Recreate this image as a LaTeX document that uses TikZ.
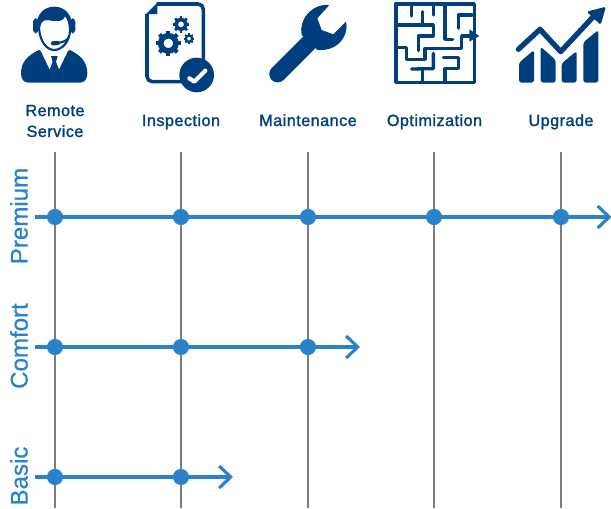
\documentclass[tikz,border=0pt]{standalone}
\usepackage{fontspec}
\setmainfont{Liberation Sans}
\newfontfamily\svcfont[FakeBold=1.6,LetterSpace=3]{Liberation Sans}
\newfontfamily\tierfont[FakeBold=0.8]{Liberation Sans}
\usepackage{tikz}
\usetikzlibrary{arrows,arrows.meta}
\usetikzlibrary{positioning}
\definecolor{icondark}{HTML}{003F7D}
\definecolor{tierblue}{HTML}{2A83C9}
\definecolor{gridgrey}{HTML}{7D7D7D}
\tikzset{
	svclabel/.style={text=icondark,font=\svcfont\fontsize{9.2}{11.9}\selectfont,align=center,inner sep=0pt},
	tierlabel/.style={text=tierblue,font=\tierfont\fontsize{13.7}{16}\selectfont,rotate=90,inner sep=0pt},
	griddrop/.style={gridgrey,line width=0.85pt},
	tierline/.style={tierblue,line width=1.8pt,-{Straight Barb[length=6.6pt,width=12.6pt]}},
	tierdot/.style={circle,fill=tierblue,minimum size=9.2pt,inner sep=0pt},
	wall/.style={icondark,line width=1.9pt,line cap=round,line join=round},
}
\newcommand{\gearicon}[3]{
	\foreach \a in {0,45,...,315}
		\draw [icondark,line width=#3*0.06pt] (#1,#2) ++(\a:#3*0.7) -- ++(\a:#3*0.3);
	\draw [icondark,line width=#3*0.085pt] (#1,#2) circle [radius=#3*0.6];
}
\begin{document}
\begin{tikzpicture}[x=0.02cm,y=-0.02cm]
	\useasboundingbox (0,0) rectangle (611,508);

	% columns
	\foreach \x/\n in {55/a,181/b,308/c,434/d,561/e} {
		\coordinate (top\n) at (\x,152);
		\coordinate (bot\n) at (\x,508);
		\draw [griddrop] (top\n) -- (bot\n);
	}

	% tiers
	\coordinate (pstart) at (35,217);
	\coordinate (pend) at (611.5,217);
	\coordinate (cstart) at (35,347);
	\coordinate (cend) at (360,347);
	\coordinate (bstart) at (35,477);
	\coordinate (bend) at (233,477);
	\draw [tierline] (pstart) -- (pend);
	\draw [tierline] (cstart) -- (cend);
	\draw [tierline] (bstart) -- (bend);
	\foreach \x/\n in {55/a,181/b,308/c,434/d,561/e}
		\node [tierdot] (dotp\n) at (\x,217) {};
	\foreach \x/\n in {55/a,181/b,308/c}
		\node [tierdot] (dotc\n) at (\x,347) {};
	\foreach \x/\n in {55/a,181/b}
		\node [tierdot] (dotb\n) at (\x,477) {};

	\node [tierlabel] (premium) at (19,216) {Premium};
	\node [tierlabel] (comfort) at (19,346) {Comfort};
	\node [tierlabel] (basic) at (19,476) {Basic};

	\node [svclabel] (remote) at (55,121) {Remote\\Service};
	\node [svclabel,anchor=base] (inspection) at (181,126) {Inspection};
	\node [svclabel,anchor=base] (maintenance) at (308,126) {Maintenance};
	\node [svclabel,anchor=base] (optimization) at (434.5,126) {Optimization};
	\node [svclabel,anchor=base] (upgrade) at (561,126) {Upgrade};

	% person
	\begin{scope}[shift={(15,0)},scale=1/3]
		\fill [icondark] (40,248) .. controls (25,248) and (18,235) .. (18,220)
			.. controls (18,185) and (40,165) .. (72,150) -- (118,170) -- (165,150)
			.. controls (195,165) and (217,185) .. (217,220)
			.. controls (217,235) and (210,248) .. (195,248) -- cycle;
		\fill [white] (76,150) -- (92,150) -- (118,168) -- (145,150) -- (160,150) -- (132,208) -- (118,172) -- (104,208) -- cycle;
		\fill [icondark] (108,168) -- (128,168) -- (123,186) -- (128,208) -- (118,218) -- (108,208) -- (113,186) -- cycle;
		\fill [icondark] (118,20) .. controls (85,20) and (64,45) .. (64,80) -- (172,80) .. controls (172,45) and (150,20) .. (118,20) -- cycle;
		\fill [icondark, rounded corners=2pt] (54,55) rectangle (70,100);
		\fill [icondark, rounded corners=2pt] (166,55) rectangle (181,100);
		\draw [icondark,line width=1.2pt,fill=white] (72,85) .. controls (76,52) and (90,56) .. (115,60)
			.. controls (135,62) and (148,58) .. (152,45) .. controls (160,55) and (165,70) .. (165,90)
			.. controls (165,125) and (140,150) .. (118,150) .. controls (95,150) and (75,125) .. (72,85) -- cycle;
		\fill [white] (78,85) .. controls (80,62) and (90,58) .. (115,64) .. controls (135,66) and (146,62) .. (150,50) .. controls (157,60) and (160,75) .. (160,90) -- (78,90) -- cycle;
		\draw [icondark,line width=1.2pt] (163,108) .. controls (158,122) and (145,127) .. (125,129);
		\draw [icondark,line width=2.4pt,line cap=round] (114,130) -- (128,129);
	\end{scope}

	% document with gears
	\begin{scope}[shift={(140,0)},scale=1/3]
		\draw [icondark,line width=2pt,rounded corners=3pt] (50,12) -- (190,12) -- (190,200);
		\draw [icondark,line width=2pt,rounded corners=3pt] (130,245) -- (21,245) -- (21,42);
		\fill [icondark] (18,42) -- (52,8) -- (52,42) -- cycle;
		\gearicon{85}{130}{38}
		\gearicon{123}{73}{25}
		\gearicon{147}{116}{16}
		\fill [icondark] (170,225) circle [radius=52];
		\draw [white,line width=2.4pt,line cap=round,line join=round] (148,235) -- (163,245) -- (196,212);
	\end{scope}

	% wrench
	\begin{scope}[shift={(240,0)},scale=1/3]
		\draw [icondark,line width=9.6pt,line cap=round] (113,222) -- (205,130);
		\fill [icondark] (268,15) -- (232,55) -- (245,90) -- (280,103) -- (318,65)
			.. controls (328,105) and (295,155) .. (232,150) -- (185,105)
			.. controls (175,60) and (215,10) .. (268,15) -- cycle;
	\end{scope}

	% maze
	\begin{scope}[shift={(390,0)},scale=1/3]
		\draw [wall] (18,12) rectangle (253,247);
		\draw [wall] (64,12) -- (64,48);
		\draw [wall] (97,35) -- (97,75);
		\draw [wall] (18,75) -- (130,75) -- (130,108) -- (85,108) -- (85,152);
		\draw [wall] (130,12) -- (130,45);
		\draw [wall] (165,12) -- (165,118) -- (188,118);
		\draw [wall] (245,45) -- (205,45) -- (205,85);
		\draw [wall] (18,142) -- (50,142) -- (50,178) -- (105,178) -- (105,145) -- (215,145) -- (215,108) -- (240,108);
		\fill [icondark] (238,88) -- (268,108) -- (238,125) -- cycle;
		\draw [wall] (130,160) -- (130,206) -- (65,207);
		\draw [wall] (97,207) -- (97,247);
		\draw [wall] (160,172) -- (205,172) -- (205,205) -- (165,205) -- (165,247);
	\end{scope}

	% chart
	\begin{scope}[shift={(510,0)},scale=1/3]
		\fill [icondark,rounded corners=1.5pt] (27,248) -- (27,188) -- (72,150) -- (72,248) -- cycle;
		\fill [icondark,rounded corners=1.5pt] (92,248) -- (92,140) -- (137,180) -- (137,248) -- cycle;
		\fill [icondark,rounded corners=1.5pt] (155,248) -- (155,190) -- (200,153) -- (200,248) -- cycle;
		\fill [icondark,rounded corners=1.5pt] (220,248) -- (220,127) -- (265,90) -- (265,248) -- cycle;
		\draw [icondark,line width=3pt,line cap=round,line join=round] (25,148) -- (90,88) -- (152,155) -- (250,50);
		\fill [icondark,rounded corners=1pt] (230,35) -- (288,20) -- (272,75) -- cycle;
	\end{scope}
\end{tikzpicture}
\end{document}
